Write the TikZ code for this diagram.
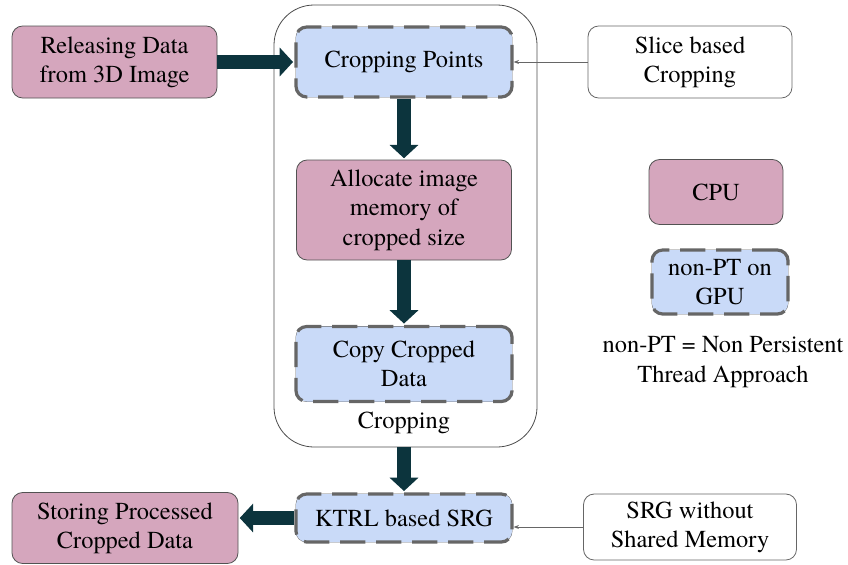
\documentclass[tikz,border=0pt]{standalone}
\usepackage{fontspec}
\setmainfont{texgyretermes-regular.otf}
\usepackage{xcolor}
\usetikzlibrary{arrows.meta}
\definecolor{cpupink}{HTML}{D5A6BD}
\definecolor{gpublue}{HTML}{C9DAF8}
\definecolor{flowteal}{HTML}{0C343D}
\definecolor{edgegray}{HTML}{666666}
\begin{document}
\begin{tikzpicture}[x=0.75pt,y=-0.75pt,
    every node/.style={font=\fontsize{18.3}{22}\selectfont, align=center, inner sep=2pt},
    cpubox/.style={draw=edgegray!80!black, fill=cpupink, rounded corners=8pt, line width=0.6pt},
    gpubox/.style={draw=edgegray, fill=gpublue, rounded corners=8pt, line width=2.4pt, dash pattern=on 19pt off 8pt,
        preaction={draw=edgegray, solid, line width=0.6pt}},
    notebox/.style={draw=edgegray, fill=white, rounded corners=8pt, line width=0.6pt},
    bigarrow/.style={draw=flowteal, line width=10pt, -{Triangle[length=10pt,width=21pt]}, shorten >=1pt},
    thinarrow/.style={draw=edgegray, line width=0.6pt, -{Stealth[length=4pt,width=3pt]}}]
    \useasboundingbox (0,0) rectangle (848,564);
    \node[draw=black!70, line width=0.6pt, rounded corners=30pt, minimum width=197.25pt, minimum height=331.5pt] (crop) at (405.5,226) {};
    \node[cpubox, minimum width=153.75pt, minimum height=54pt] (rel) at (114.5,62) {Releasing Data\\from 3D Image};
    \node[gpubox, minimum width=162pt, minimum height=52.5pt] (cp) at (404,62) {Cropping Points};
    \node[cpubox, minimum width=161.25pt, minimum height=75pt] (alloc) at (404,210) {Allocate image\\memory of\\cropped size};
    \node[gpubox, minimum width=162pt, minimum height=56.25pt] (copy) at (404,364) {Copy Cropped\\Data};
    \node (croplbl) at (404,423) {Cropping};
    \node[gpubox, minimum width=162pt, minimum height=36pt] (ktrl) at (404,518) {KTRL based SRG};
    \node[cpubox, minimum width=169.5pt, minimum height=53.25pt] (store) at (125,528) {Storing Processed\\Cropped Data};
    \node[notebox, minimum width=153pt, minimum height=54pt] (slice) at (690,62) {Slice based\\Cropping};
    \node[notebox, minimum width=159.75pt, minimum height=49.5pt] (srg) at (690,527) {SRG without\\Shared Memory};
    \node[cpubox, minimum width=100.5pt, minimum height=48.75pt] (cpu) at (716,192) {CPU};
    \node[gpubox, minimum width=102pt, minimum height=48pt] (npt) at (720,282) {non-PT on\\GPU};
    \node (legend) at (723,362) {non-PT = Non Persistent\\Thread Approach};
    \draw[bigarrow] (rel) -- (cp);
    \draw[bigarrow] (cp) -- (alloc);
    \draw[bigarrow] (alloc) -- (copy);
    \draw[bigarrow] (ktrl.north |- crop.south) -- (ktrl);
    \draw[bigarrow] (ktrl.west) -- (ktrl.west -| store.east);
    \draw[thinarrow] (slice.west) -- (cp.east);
    \draw[thinarrow] (srg.west) -- (srg.west -| ktrl.east);
\end{tikzpicture}
\end{document}
